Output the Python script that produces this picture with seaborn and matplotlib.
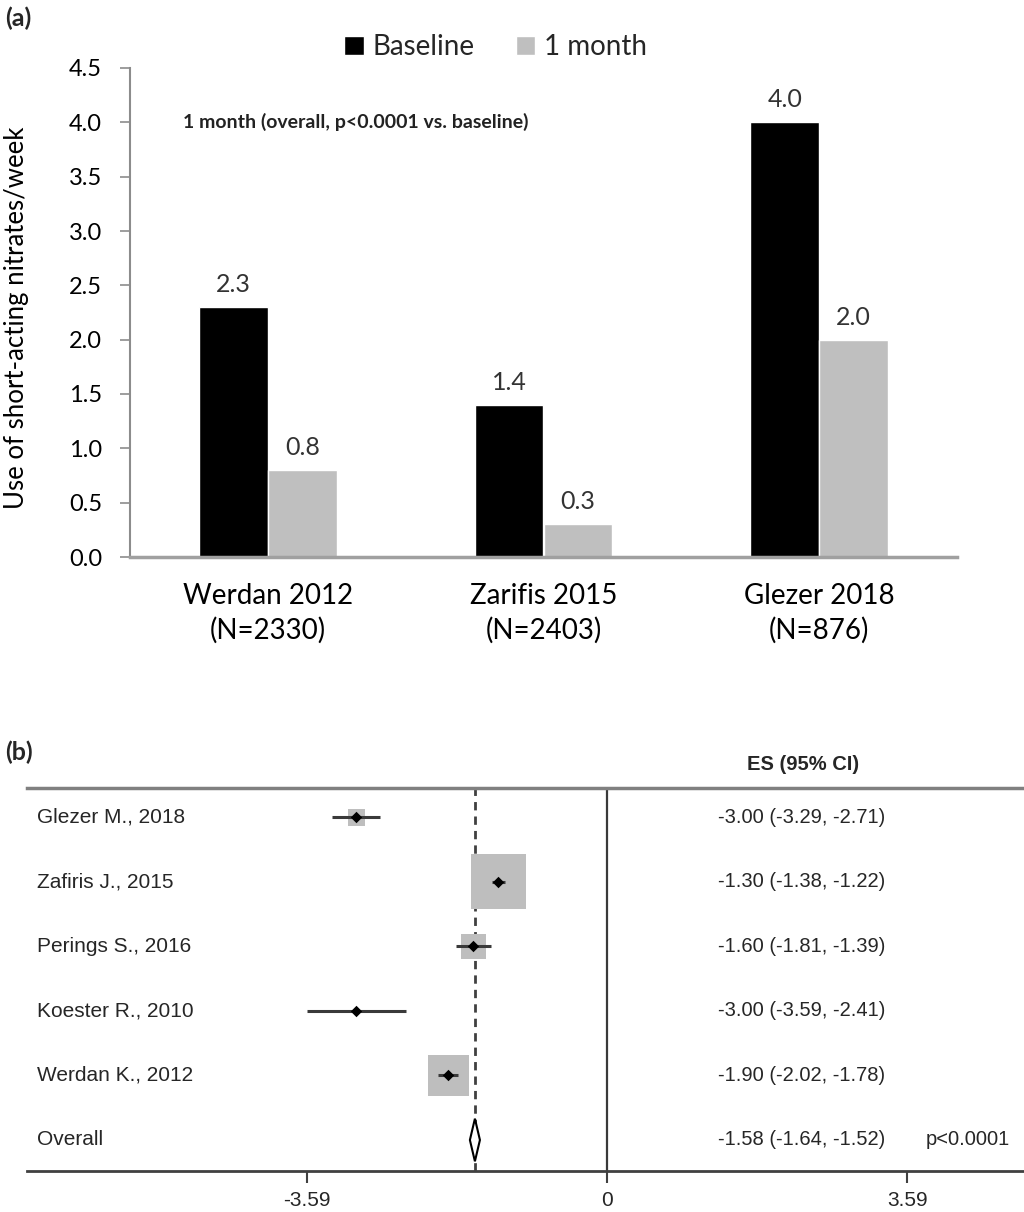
import pandas as pd
import seaborn as sns
import matplotlib.pyplot as plt
from matplotlib.patches import Polygon
from matplotlib.transforms import blended_transform_factory

# (a) nitrate use per week
studies_a = ["Werdan 2012\n(N=2330)", "Zarifis 2015\n(N=2403)", "Glezer 2018\n(N=876)"]
baseline = [2.3, 1.4, 4.0]
one_month = [0.8, 0.3, 2.0]
yticks_a = [0.0, 0.5, 1.0, 1.5, 2.0, 2.5, 3.0, 3.5, 4.0, 4.5]

# (b) forest plot
studies_b = ["Glezer M., 2018", "Zafiris J., 2015", "Perings S., 2016", "Koester R., 2010", "Werdan K., 2012"]
es = [-3.00, -1.30, -1.60, -3.00, -1.90]
ci_low = [-3.29, -1.38, -1.81, -3.59, -2.02]
ci_high = [-2.71, -1.22, -1.39, -2.41, -1.78]
weights = [5.1, 53.7, 11.1, 0.3, 29.8]
overall = [-1.58, -1.64, -1.52]
xticks_b = [-3.59, 0, 3.59]
xticklabels_b = ["-3.59", "0", "3.59"]

sns.set_theme(style="white")
plt.rcParams['font.family'] = ['Lato', 'DejaVu Sans']
arial = ['Liberation Sans', 'DejaVu Sans']

fig = plt.figure(figsize=(10.24, 12.12), dpi=100)

# ---- panel a ----
ax1 = fig.add_axes([130/1024, 1-557/1212, 827/1024, 489/1212])
df_a = pd.DataFrame({"study": studies_a * 2,
                     "time": ["Baseline"] * 3 + ["1 month"] * 3,
                     "value": baseline + one_month})
sns.barplot(data=df_a, x="study", y="value", hue="time", palette=["black", "#bfbfbf"],
            width=0.5, edgecolor="white", linewidth=1, ax=ax1)
for c in ax1.containers:
    ax1.bar_label(c, fmt="%.1f", padding=8, fontsize=18, color="#333333")

handles, labels = ax1.get_legend_handles_labels()
ax1.legend_.remove()
fig.legend(handles, labels, loc="center", bbox_to_anchor=(0.484, 1-47/1212), ncol=2,
           frameon=False, fontsize=20, handlelength=0.7, handleheight=0.7,
           handletextpad=0.3, columnspacing=1.5)

ax1.set_xlim(-0.5, 2.5)
ax1.set_ylim(0, 4.5)
ax1.set_yticks(yticks_a)
ax1.set_yticklabels([f"{t:.1f}" for t in yticks_a])
ax1.set_xlabel("")
ax1.set_ylabel("Use of short-acting nitrates/week", fontsize=18.5, color="black")
ax1.yaxis.set_label_coords(-0.122, 0.49)
for s in ["top", "right"]:
    ax1.spines[s].set_visible(False)
ax1.spines["left"].set_color("#8c8c8c")
ax1.spines["left"].set_linewidth(1.5)
ax1.spines["bottom"].set_color("#a0a0a0")
ax1.spines["bottom"].set_linewidth(2.5)
ax1.tick_params(axis="y", left=True, length=7, width=1.2, color="#8c8c8c", pad=13,
                labelsize=17, labelcolor="black")
ax1.tick_params(axis="x", bottom=False, labelsize=20, pad=13, labelcolor="black")
for lab in ax1.get_xticklabels():
    lab.set_linespacing(1.35)
tr = blended_transform_factory(ax1.transAxes, ax1.transData)
ax1.text(0.064, 4.0, "1 month (overall, p<0.0001 vs. baseline)", transform=tr,
         fontsize=14, fontweight="bold", va="center", color="#222222")

fig.text(0.005, 1-18/1212, "(a)", fontsize=18, fontweight="bold", va="center")
fig.text(0.005, 1-752/1212, "(b)", fontsize=18, fontweight="bold", va="center")

# ---- panel b ----
ax2 = fig.add_axes([27/1024, 1-1171/1212, 997/1024, 383/1212])
ypos = list(range(len(studies_b)))
df_b = pd.DataFrame({"es": es, "y": ypos, "w": weights})
ax2.axvline(0, color="#3a3a3a", lw=1.6, zorder=1)
ax2.axvline(overall[0], color="#404040", lw=2, dashes=(3, 2.2), zorder=1)
sns.scatterplot(data=df_b, x="es", y="y", size="w", sizes=(0, 2920), size_norm=(0, 100),
                marker="s", color="#bebebe", linewidth=0, legend=False, ax=ax2, zorder=2)
ax2.hlines(ypos, ci_low, ci_high, color="#3a3a3a", lw=2.2, zorder=3)
sns.scatterplot(data=df_b, x="es", y="y", marker="D", s=34, color="black",
                linewidth=0, legend=False, ax=ax2, zorder=4)
yo = len(studies_b)
h = 0.33
ax2.add_patch(Polygon([(overall[1], yo), (overall[0], yo - h), (overall[2], yo), (overall[0], yo + h)],
                      closed=True, facecolor="white", edgecolor="black", lw=1.5, zorder=5))

ax2.set_xlim((27-607)/83.6, (1024-607)/83.6)
ax2.set_ylim(5.48, -0.45)
ax2.set_xlabel("")
ax2.set_ylabel("")
ax2.set_yticks([])
ax2.set_xticks(xticks_b)
ax2.set_xticklabels(xticklabels_b, fontfamily=arial)
ax2.tick_params(axis="x", bottom=True, direction="out", length=8.5, width=1.5,
                color="#404040", labelsize=15, pad=6)
ax2.spines["left"].set_visible(False)
ax2.spines["right"].set_visible(False)
ax2.spines["top"].set_color("#808080")
ax2.spines["top"].set_linewidth(2.5)
ax2.spines["bottom"].set_color("#404040")
ax2.spines["bottom"].set_linewidth(2)

tr2 = blended_transform_factory(ax2.transAxes, ax2.transData)
for i, name in enumerate(studies_b):
    ax2.text(0.010, i, name, transform=tr2, fontsize=15, family=arial, va="center")
    ax2.text(0.777, i, f"{es[i]:.2f} ({ci_low[i]:.2f}, {ci_high[i]:.2f})", transform=tr2,
             fontsize=14.5, family=arial, va="center", ha="center")
ax2.text(0.010, yo, "Overall", transform=tr2, fontsize=15, family=arial, va="center")
ax2.text(0.777, yo, f"{overall[0]:.2f} ({overall[1]:.2f}, {overall[2]:.2f})", transform=tr2,
         fontsize=14.5, family=arial, va="center", ha="center")
ax2.text(0.901, yo, "p<0.0001", transform=tr2, fontsize=14.5, family=arial, va="center")
fig.text(803/1024, 1-765/1212, "ES (95% CI)", fontsize=14.5, family=arial,
         fontweight="bold", ha="center", va="center")

fig.savefig("out.png", dpi=100)
